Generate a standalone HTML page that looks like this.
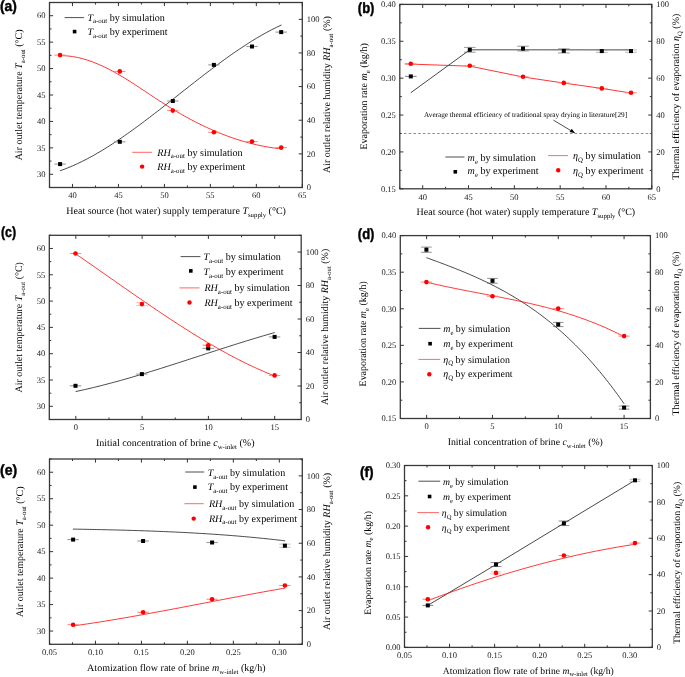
<!DOCTYPE html>
<html><head><meta charset="utf-8"><style>
html,body{margin:0;padding:0;background:#fff;}
svg{display:block;will-change:transform;text-rendering:geometricPrecision;}
</style></head><body>
<svg width="685" height="677" viewBox="0 0 685 677">
<rect width="685" height="677" fill="#fff"/>
<rect x="49.50" y="2.50" width="252.80" height="185.00" fill="none" stroke="#3a3a3a" stroke-width="1.3"/>
<path d="M72.48 187.50v-3.6M72.48 2.50v3.6M118.45 187.50v-3.6M118.45 2.50v3.6M164.41 187.50v-3.6M164.41 2.50v3.6M210.37 187.50v-3.6M210.37 2.50v3.6M256.34 187.50v-3.6M256.34 2.50v3.6M302.30 187.50v-3.6M302.30 2.50v3.6M49.50 187.50v-2.0M49.50 2.50v2.0M95.46 187.50v-2.0M95.46 2.50v2.0M141.43 187.50v-2.0M141.43 2.50v2.0M187.39 187.50v-2.0M187.39 2.50v2.0M233.35 187.50v-2.0M233.35 2.50v2.0M279.32 187.50v-2.0M279.32 2.50v2.0M49.50 174.29h3.6M49.50 147.86h3.6M49.50 121.43h3.6M49.50 95.00h3.6M49.50 68.57h3.6M49.50 42.14h3.6M49.50 15.71h3.6M49.50 187.50h2.0M49.50 161.07h2.0M49.50 134.64h2.0M49.50 108.21h2.0M49.50 81.79h2.0M49.50 55.36h2.0M49.50 28.93h2.0M49.50 2.50h2.0M302.30 187.50h-3.6M302.30 153.86h-3.6M302.30 120.23h-3.6M302.30 86.59h-3.6M302.30 52.95h-3.6M302.30 19.32h-3.6M302.30 170.68h-2.0M302.30 137.05h-2.0M302.30 103.41h-2.0M302.30 69.77h-2.0M302.30 36.14h-2.0M302.30 2.50h-2.0" stroke="#333" stroke-width="1" fill="none"/>
<g font-family="Liberation Serif" font-size="8.5" fill="#1a1a1a"><text x="72.48" y="198.20" text-anchor="middle">40</text><text x="118.45" y="198.20" text-anchor="middle">45</text><text x="164.41" y="198.20" text-anchor="middle">50</text><text x="210.37" y="198.20" text-anchor="middle">55</text><text x="256.34" y="198.20" text-anchor="middle">60</text><text x="302.30" y="198.20" text-anchor="middle">65</text><text x="45.50" y="177.04" text-anchor="end">30</text><text x="45.50" y="150.61" text-anchor="end">35</text><text x="45.50" y="124.18" text-anchor="end">40</text><text x="45.50" y="97.75" text-anchor="end">45</text><text x="45.50" y="71.32" text-anchor="end">50</text><text x="45.50" y="44.89" text-anchor="end">55</text><text x="45.50" y="18.46" text-anchor="end">60</text><text x="306.80" y="190.25">0</text><text x="306.80" y="156.61">20</text><text x="306.80" y="122.98">40</text><text x="306.80" y="89.34">60</text><text x="306.80" y="55.70">80</text><text x="306.80" y="22.07">100</text></g>
<text x="176.15" y="213.90" text-anchor="middle" font-family="Liberation Serif" font-size="10.0" fill="#000"><tspan>Heat source (hot water) supply temperature </tspan><tspan font-style="italic">T</tspan><tspan font-size="6.80" dy="2.80">supply</tspan><tspan dy="-2.80"> (°C)</tspan></text>
<text transform="translate(22.10,94.90) rotate(-90)" text-anchor="middle" font-family="Liberation Serif" font-size="10.03" fill="#000"><tspan>Air outlet temperature </tspan><tspan font-style="italic">T</tspan><tspan font-size="6.82" dy="2.81">a-out</tspan><tspan dy="-2.81"> (°C)</tspan></text>
<text transform="translate(330.10,94.55) rotate(-90)" text-anchor="middle" font-family="Liberation Serif" font-size="10.0" fill="#000"><tspan>Air outlet relative humidity </tspan><tspan font-style="italic">RH</tspan><tspan font-size="6.80" dy="2.80">a-out</tspan><tspan dy="-2.80"> (%)</tspan></text>
<path d="M60.10 170.76 L62.59 169.88 L65.08 168.94 L67.56 167.97 L70.05 166.95 L72.54 165.89 L75.03 164.79 L77.51 163.65 L80.00 162.46 L82.49 161.24 L84.98 159.99 L87.46 158.69 L89.95 157.36 L92.44 156.00 L94.93 154.60 L97.41 153.17 L99.90 151.71 L102.39 150.22 L104.88 148.69 L107.37 147.14 L109.85 145.56 L112.34 143.96 L114.83 142.33 L117.32 140.67 L119.80 138.99 L122.29 137.29 L124.78 135.56 L127.27 133.82 L129.75 132.05 L132.24 130.26 L134.73 128.46 L137.22 126.64 L139.70 124.80 L142.19 122.95 L144.68 121.09 L147.17 119.21 L149.66 117.32 L152.14 115.41 L154.63 113.50 L157.12 111.58 L159.61 109.65 L162.09 107.71 L164.58 105.77 L167.07 103.82 L169.56 101.86 L172.04 99.90 L174.53 97.94 L177.02 95.98 L179.51 94.02 L181.99 92.06 L184.48 90.10 L186.97 88.14 L189.46 86.18 L191.94 84.23 L194.43 82.28 L196.92 80.34 L199.41 78.41 L201.90 76.49 L204.38 74.57 L206.87 72.67 L209.36 70.77 L211.85 68.89 L214.33 67.02 L216.82 65.16 L219.31 63.32 L221.80 61.50 L224.28 59.69 L226.77 57.90 L229.26 56.12 L231.75 54.37 L234.23 52.64 L236.72 50.93 L239.21 49.24 L241.70 47.58 L244.19 45.94 L246.67 44.33 L249.16 42.74 L251.65 41.18 L254.14 39.65 L256.62 38.15 L259.11 36.68 L261.60 35.24 L264.09 33.83 L266.57 32.45 L269.06 31.11 L271.55 29.81 L274.04 28.54 L276.52 27.31 L279.01 26.12 L281.50 24.96" fill="none" stroke="#1a1a1a" stroke-width="0.8" stroke-linejoin="round"/>
<path d="M60.10 55.69 L62.58 55.70 L65.06 55.79 L67.55 55.97 L70.03 56.22 L72.51 56.56 L74.99 56.97 L77.47 57.46 L79.96 58.02 L82.44 58.66 L84.92 59.36 L87.40 60.13 L89.88 60.96 L92.37 61.85 L94.85 62.81 L97.33 63.82 L99.81 64.89 L102.29 66.01 L104.78 67.18 L107.26 68.40 L109.74 69.67 L112.22 70.98 L114.70 72.34 L117.19 73.74 L119.67 75.17 L122.15 76.64 L124.63 78.14 L127.11 79.67 L129.60 81.23 L132.08 82.81 L134.56 84.41 L137.04 86.02 L139.52 87.65 L142.01 89.29 L144.49 90.93 L146.97 92.58 L149.45 94.24 L151.93 95.89 L154.42 97.53 L156.90 99.17 L159.38 100.79 L161.86 102.40 L164.34 103.99 L166.83 105.57 L169.31 107.12 L171.79 108.64 L174.27 110.14 L176.76 111.62 L179.24 113.07 L181.72 114.50 L184.20 115.90 L186.68 117.27 L189.17 118.62 L191.65 119.95 L194.13 121.24 L196.61 122.52 L199.09 123.76 L201.58 124.98 L204.06 126.17 L206.54 127.34 L209.02 128.48 L211.50 129.59 L213.99 130.67 L216.47 131.73 L218.95 132.76 L221.43 133.75 L223.91 134.73 L226.40 135.67 L228.88 136.58 L231.36 137.47 L233.84 138.33 L236.32 139.16 L238.81 139.95 L241.29 140.72 L243.77 141.46 L246.25 142.17 L248.73 142.85 L251.22 143.50 L253.70 144.12 L256.18 144.70 L258.66 145.26 L261.14 145.79 L263.63 146.28 L266.11 146.74 L268.59 147.17 L271.07 147.57 L273.55 147.94 L276.04 148.28 L278.52 148.58 L281.00 148.85" fill="none" stroke="#ff0000" stroke-width="0.8" stroke-linejoin="round"/>
<path d="M54.40 164.10h11.40" stroke="#9a9a9a" stroke-width="1.1" fill="none"/>
<rect x="58.10" y="162.10" width="4.0" height="4.0" fill="#000"/>
<path d="M114.10 141.80h11.40" stroke="#9a9a9a" stroke-width="1.1" fill="none"/>
<rect x="117.80" y="139.80" width="4.0" height="4.0" fill="#000"/>
<path d="M167.10 101.00h11.40" stroke="#9a9a9a" stroke-width="1.1" fill="none"/>
<rect x="170.80" y="99.00" width="4.0" height="4.0" fill="#000"/>
<path d="M208.20 64.90h11.40" stroke="#9a9a9a" stroke-width="1.1" fill="none"/>
<rect x="211.90" y="62.90" width="4.0" height="4.0" fill="#000"/>
<path d="M246.30 46.50h11.40" stroke="#9a9a9a" stroke-width="1.1" fill="none"/>
<rect x="250.00" y="44.50" width="4.0" height="4.0" fill="#000"/>
<path d="M275.50 32.10h11.40" stroke="#9a9a9a" stroke-width="1.1" fill="none"/>
<rect x="279.20" y="30.10" width="4.0" height="4.0" fill="#000"/>
<path d="M54.40 55.10h11.40" stroke="#ff8a8a" stroke-width="1.1" fill="none"/>
<circle cx="60.10" cy="55.10" r="2.3" fill="#f00"/>
<path d="M114.10 71.40h11.40" stroke="#ff8a8a" stroke-width="1.1" fill="none"/>
<circle cx="119.80" cy="71.40" r="2.3" fill="#f00"/>
<path d="M167.10 110.60h11.40" stroke="#ff8a8a" stroke-width="1.1" fill="none"/>
<circle cx="172.80" cy="110.60" r="2.3" fill="#f00"/>
<path d="M208.20 132.30h11.40" stroke="#ff8a8a" stroke-width="1.1" fill="none"/>
<circle cx="213.90" cy="132.30" r="2.3" fill="#f00"/>
<path d="M246.30 141.60h11.40" stroke="#ff8a8a" stroke-width="1.1" fill="none"/>
<circle cx="252.00" cy="141.60" r="2.3" fill="#f00"/>
<path d="M275.50 147.60h11.40" stroke="#ff8a8a" stroke-width="1.1" fill="none"/>
<circle cx="281.20" cy="147.60" r="2.3" fill="#f00"/>
<path d="M64.60 17.60H83.90" stroke="#222" stroke-width="0.8"/>
<text x="87.40" y="20.60" text-anchor="start" font-family="Liberation Serif" font-size="10.1" fill="#000"><tspan font-style="italic">T</tspan><tspan font-size="6.87" dy="2.83">a-out</tspan><tspan dy="-2.83"> by simulation</tspan></text>
<rect x="72.80" y="29.80" width="3.6" height="3.6" fill="#000"/>
<text x="87.40" y="35.10" text-anchor="start" font-family="Liberation Serif" font-size="10.1" fill="#000"><tspan font-style="italic">T</tspan><tspan font-size="6.87" dy="2.83">a-out</tspan><tspan dy="-2.83"> by experiment</tspan></text>
<path d="M132.20 152.30H152.00" stroke="#ff4040" stroke-width="0.8"/>
<text x="157.30" y="155.60" text-anchor="start" font-family="Liberation Serif" font-size="10.1" fill="#000"><tspan font-style="italic">RH</tspan><tspan font-size="6.87" dy="2.83">a-out</tspan><tspan dy="-2.83"> by simulation</tspan></text>
<circle cx="142.10" cy="166.60" r="2.2" fill="#f00"/>
<text x="157.30" y="170.20" text-anchor="start" font-family="Liberation Serif" font-size="10.1" fill="#000"><tspan font-style="italic">RH</tspan><tspan font-size="6.87" dy="2.83">a-out</tspan><tspan dy="-2.83"> by experiment</tspan></text>
<text x="0.00" y="10.50" font-family="Liberation Sans" font-weight="bold" font-size="15" stroke="#000" stroke-width="0.45" textLength="16.9" lengthAdjust="spacingAndGlyphs">(a)</text>
<rect x="399.80" y="4.40" width="252.00" height="184.40" fill="none" stroke="#3a3a3a" stroke-width="1.3"/>
<path d="M422.71 188.80v-3.6M422.71 4.40v3.6M468.53 188.80v-3.6M468.53 4.40v3.6M514.35 188.80v-3.6M514.35 4.40v3.6M560.16 188.80v-3.6M560.16 4.40v3.6M605.98 188.80v-3.6M605.98 4.40v3.6M651.80 188.80v-3.6M651.80 4.40v3.6M399.80 188.80v-2.0M399.80 4.40v2.0M445.62 188.80v-2.0M445.62 4.40v2.0M491.44 188.80v-2.0M491.44 4.40v2.0M537.25 188.80v-2.0M537.25 4.40v2.0M583.07 188.80v-2.0M583.07 4.40v2.0M628.89 188.80v-2.0M628.89 4.40v2.0M399.80 188.80h3.6M399.80 151.92h3.6M399.80 115.04h3.6M399.80 78.16h3.6M399.80 41.28h3.6M399.80 4.40h3.6M399.80 170.36h2.0M399.80 133.48h2.0M399.80 96.60h2.0M399.80 59.72h2.0M399.80 22.84h2.0M651.80 188.80h-3.6M651.80 151.92h-3.6M651.80 115.04h-3.6M651.80 78.16h-3.6M651.80 41.28h-3.6M651.80 4.40h-3.6M651.80 170.36h-2.0M651.80 133.48h-2.0M651.80 96.60h-2.0M651.80 59.72h-2.0M651.80 22.84h-2.0" stroke="#333" stroke-width="1" fill="none"/>
<g font-family="Liberation Serif" font-size="8.5" fill="#1a1a1a"><text x="422.71" y="199.50" text-anchor="middle">40</text><text x="468.53" y="199.50" text-anchor="middle">45</text><text x="514.35" y="199.50" text-anchor="middle">50</text><text x="560.16" y="199.50" text-anchor="middle">55</text><text x="605.98" y="199.50" text-anchor="middle">60</text><text x="651.80" y="199.50" text-anchor="middle">65</text><text x="395.80" y="191.55" text-anchor="end">0.15</text><text x="395.80" y="154.67" text-anchor="end">0.20</text><text x="395.80" y="117.79" text-anchor="end">0.25</text><text x="395.80" y="80.91" text-anchor="end">0.30</text><text x="395.80" y="44.03" text-anchor="end">0.35</text><text x="395.80" y="7.15" text-anchor="end">0.40</text><text x="656.30" y="191.55">0</text><text x="656.30" y="154.67">20</text><text x="656.30" y="117.79">40</text><text x="656.30" y="80.91">60</text><text x="656.30" y="44.03">80</text><text x="656.30" y="7.15">100</text></g>
<text x="525.90" y="215.00" text-anchor="middle" font-family="Liberation Serif" font-size="9.96" fill="#000"><tspan>Heat source (hot water) supply temperature </tspan><tspan font-style="italic">T</tspan><tspan font-size="6.77" dy="2.79">supply</tspan><tspan dy="-2.79"> (°C)</tspan></text>
<text transform="translate(367.10,96.35) rotate(-90)" text-anchor="middle" font-family="Liberation Serif" font-size="10.04" fill="#000"><tspan>Evaporation rate </tspan><tspan font-style="italic">m</tspan><tspan font-size="6.83" dy="2.81">e</tspan><tspan dy="-2.81"> (kg/h)</tspan></text>
<text transform="translate(679.20,96.70) rotate(-90)" text-anchor="middle" font-family="Liberation Serif" font-size="9.97" fill="#000"><tspan>Thermal efficiency of evaporation </tspan><tspan font-style="italic">η</tspan><tspan font-size="6.78" dy="2.79">Q</tspan><tspan dy="-2.79"> (%)</tspan></text>
<path d="M403.9 133.48H651.10" stroke="#8080ff" stroke-width="1.1" stroke-dasharray="2.6 2.14"/>
<text x="424.10" y="116.80" text-anchor="start" font-family="Liberation Serif" font-size="7.23" fill="#000"><tspan>Average thermal efficiency of traditional spray drying in literature[29]</tspan></text>
<path d="M553.4 120.1L572.0 131.3" stroke="#000" stroke-width="0.7"/>
<path d="M575.2 133.2L569.6 131.9L571.7 128.7Z" fill="#000"/>
<path d="M410.80 92.70 L469.80 49.80 L631.00 49.90" fill="none" stroke="#1a1a1a" stroke-width="0.8" stroke-linejoin="round"/>
<path d="M404.70 63.90 L470.20 66.20 L523.00 77.00 L563.60 83.00 L601.50 88.40 L630.80 93.00" fill="none" stroke="#ff0000" stroke-width="0.8" stroke-linejoin="round"/>
<path d="M405.00 76.40h11.60" stroke="#8a8a8a" stroke-width="1.1" fill="none"/>
<rect x="408.80" y="74.40" width="4.0" height="4.0" fill="#000"/>
<path d="M464.00 47.40h11.60M464.00 52.20h11.60M469.80 47.40V52.20" stroke="#555" stroke-width="0.6" fill="none"/>
<rect x="467.80" y="47.80" width="4.0" height="4.0" fill="#000"/>
<path d="M517.20 46.25h11.60M517.20 50.95h11.60M523.00 46.25V50.95" stroke="#555" stroke-width="0.6" fill="none"/>
<rect x="521.00" y="46.60" width="4.0" height="4.0" fill="#000"/>
<path d="M558.00 48.85h11.60M558.00 52.95h11.60M563.80 48.85V52.95" stroke="#555" stroke-width="0.6" fill="none"/>
<rect x="561.80" y="48.90" width="4.0" height="4.0" fill="#000"/>
<path d="M596.00 49.85h11.60M596.00 52.35h11.60M601.80 49.85V52.35" stroke="#8a8a8a" stroke-width="0.6" fill="none"/>
<rect x="599.80" y="49.10" width="4.0" height="4.0" fill="#000"/>
<path d="M625.20 49.90h11.60M625.20 52.30h11.60M631.00 49.90V52.30" stroke="#8a8a8a" stroke-width="0.6" fill="none"/>
<rect x="629.00" y="49.10" width="4.0" height="4.0" fill="#000"/>
<path d="M405.10 63.80h11.40" stroke="#ff8a8a" stroke-width="1.1" fill="none"/>
<circle cx="410.80" cy="63.80" r="2.3" fill="#f00"/>
<path d="M464.10 65.70h11.40" stroke="#ff8a8a" stroke-width="1.1" fill="none"/>
<circle cx="469.80" cy="65.70" r="2.3" fill="#f00"/>
<path d="M517.30 76.80h11.40" stroke="#ff8a8a" stroke-width="1.1" fill="none"/>
<circle cx="523.00" cy="76.80" r="2.3" fill="#f00"/>
<path d="M558.10 82.90h11.40" stroke="#ff8a8a" stroke-width="1.1" fill="none"/>
<circle cx="563.80" cy="82.90" r="2.3" fill="#f00"/>
<path d="M596.10 88.40h11.40" stroke="#ff8a8a" stroke-width="1.1" fill="none"/>
<circle cx="601.80" cy="88.40" r="2.3" fill="#f00"/>
<path d="M625.30 92.80h11.40" stroke="#ff8a8a" stroke-width="1.1" fill="none"/>
<circle cx="631.00" cy="92.80" r="2.3" fill="#f00"/>
<path d="M445.40 157.00H464.50" stroke="#222" stroke-width="0.8"/>
<text x="467.60" y="160.80" text-anchor="start" font-family="Liberation Serif" font-size="10.1" fill="#000"><tspan font-style="italic">m</tspan><tspan font-size="6.87" dy="2.83">e</tspan><tspan dy="-2.83"> by simulation</tspan></text>
<rect x="453.50" y="170.00" width="3.6" height="3.6" fill="#000"/>
<text x="467.60" y="174.40" text-anchor="start" font-family="Liberation Serif" font-size="10.1" fill="#000"><tspan font-style="italic">m</tspan><tspan font-size="6.87" dy="2.83">e</tspan><tspan dy="-2.83"> by experiment</tspan></text>
<path d="M548.20 155.60H568.00" stroke="#ff4040" stroke-width="0.8"/>
<text x="573.10" y="159.10" text-anchor="start" font-family="Liberation Serif" font-size="10.1" fill="#000"><tspan font-style="italic">η</tspan><tspan font-size="6.87" dy="2.83">Q</tspan><tspan dy="-2.83"> by simulation</tspan></text>
<circle cx="558.20" cy="170.20" r="2.2" fill="#f00"/>
<text x="573.10" y="173.90" text-anchor="start" font-family="Liberation Serif" font-size="10.1" fill="#000"><tspan font-style="italic">η</tspan><tspan font-size="6.87" dy="2.83">Q</tspan><tspan dy="-2.83"> by experiment</tspan></text>
<text x="357.80" y="13.10" font-family="Liberation Sans" font-weight="bold" font-size="15" stroke="#000" stroke-width="0.45" textLength="16.6" lengthAdjust="spacingAndGlyphs">(b)</text>
<rect x="49.30" y="235.30" width="251.90" height="184.20" fill="none" stroke="#3a3a3a" stroke-width="1.3"/>
<path d="M75.82 419.50v-3.6M75.82 235.30v3.6M142.11 419.50v-3.6M142.11 235.30v3.6M208.39 419.50v-3.6M208.39 235.30v3.6M274.68 419.50v-3.6M274.68 235.30v3.6M108.96 419.50v-2.0M108.96 235.30v2.0M175.25 419.50v-2.0M175.25 235.30v2.0M241.54 419.50v-2.0M241.54 235.30v2.0M49.30 406.34h3.6M49.30 380.03h3.6M49.30 353.71h3.6M49.30 327.40h3.6M49.30 301.09h3.6M49.30 274.77h3.6M49.30 248.46h3.6M49.30 419.50h2.0M49.30 393.19h2.0M49.30 366.87h2.0M49.30 340.56h2.0M49.30 314.24h2.0M49.30 287.93h2.0M49.30 261.61h2.0M49.30 235.30h2.0M301.20 419.50h-3.6M301.20 386.01h-3.6M301.20 352.52h-3.6M301.20 319.03h-3.6M301.20 285.54h-3.6M301.20 252.05h-3.6M301.20 402.75h-2.0M301.20 369.26h-2.0M301.20 335.77h-2.0M301.20 302.28h-2.0M301.20 268.79h-2.0M301.20 235.30h-2.0" stroke="#333" stroke-width="1" fill="none"/>
<g font-family="Liberation Serif" font-size="8.5" fill="#1a1a1a"><text x="75.82" y="430.20" text-anchor="middle">0</text><text x="142.11" y="430.20" text-anchor="middle">5</text><text x="208.39" y="430.20" text-anchor="middle">10</text><text x="274.68" y="430.20" text-anchor="middle">15</text><text x="45.30" y="409.09" text-anchor="end">30</text><text x="45.30" y="382.78" text-anchor="end">35</text><text x="45.30" y="356.46" text-anchor="end">40</text><text x="45.30" y="330.15" text-anchor="end">45</text><text x="45.30" y="303.84" text-anchor="end">50</text><text x="45.30" y="277.52" text-anchor="end">55</text><text x="45.30" y="251.21" text-anchor="end">60</text><text x="305.70" y="422.25">0</text><text x="305.70" y="388.76">20</text><text x="305.70" y="355.27">40</text><text x="305.70" y="321.78">60</text><text x="305.70" y="288.29">80</text><text x="305.70" y="254.80">100</text></g>
<text x="175.20" y="445.70" text-anchor="middle" font-family="Liberation Serif" font-size="10.02" fill="#000"><tspan>Initial concentration of brine </tspan><tspan font-style="italic">c</tspan><tspan font-size="6.81" dy="2.81">w-inlet</tspan><tspan dy="-2.81"> (%)</tspan></text>
<text transform="translate(22.00,327.25) rotate(-90)" text-anchor="middle" font-family="Liberation Serif" font-size="9.98" fill="#000"><tspan>Air outlet temperature </tspan><tspan font-style="italic">T</tspan><tspan font-size="6.79" dy="2.79">a-out</tspan><tspan dy="-2.79"> (°C)</tspan></text>
<text transform="translate(328.30,326.90) rotate(-90)" text-anchor="middle" font-family="Liberation Serif" font-size="9.96" fill="#000"><tspan>Air outlet relative humidity </tspan><tspan font-style="italic">RH</tspan><tspan font-size="6.77" dy="2.79">a-out</tspan><tspan dy="-2.79"> (%)</tspan></text>
<path d="M75.60 391.57 L77.84 391.10 L80.07 390.61 L82.31 390.12 L84.54 389.62 L86.78 389.10 L89.02 388.58 L91.25 388.06 L93.49 387.52 L95.72 386.97 L97.96 386.42 L100.20 385.86 L102.43 385.29 L104.67 384.72 L106.90 384.14 L109.14 383.55 L111.38 382.95 L113.61 382.35 L115.85 381.74 L118.08 381.13 L120.32 380.51 L122.56 379.88 L124.79 379.25 L127.03 378.61 L129.26 377.96 L131.50 377.32 L133.73 376.66 L135.97 376.00 L138.21 375.34 L140.44 374.67 L142.68 374.00 L144.91 373.32 L147.15 372.64 L149.39 371.95 L151.62 371.27 L153.86 370.57 L156.09 369.88 L158.33 369.18 L160.57 368.48 L162.80 367.77 L165.04 367.06 L167.27 366.35 L169.51 365.64 L171.75 364.93 L173.98 364.21 L176.22 363.49 L178.45 362.77 L180.69 362.05 L182.93 361.33 L185.16 360.60 L187.40 359.88 L189.63 359.15 L191.87 358.42 L194.11 357.70 L196.34 356.97 L198.58 356.24 L200.81 355.51 L203.05 354.78 L205.29 354.06 L207.52 353.33 L209.76 352.60 L211.99 351.88 L214.23 351.15 L216.47 350.43 L218.70 349.71 L220.94 348.99 L223.17 348.27 L225.41 347.55 L227.64 346.83 L229.88 346.12 L232.12 345.41 L234.35 344.70 L236.59 344.00 L238.82 343.30 L241.06 342.60 L243.30 341.90 L245.53 341.21 L247.77 340.52 L250.00 339.83 L252.24 339.15 L254.48 338.47 L256.71 337.80 L258.95 337.13 L261.18 336.47 L263.42 335.81 L265.66 335.15 L267.89 334.50 L270.13 333.86 L272.36 333.22 L274.60 332.59" fill="none" stroke="#1a1a1a" stroke-width="0.8" stroke-linejoin="round"/>
<path d="M75.30 253.63 L77.54 255.17 L79.78 256.71 L82.02 258.26 L84.26 259.81 L86.50 261.37 L88.74 262.92 L90.98 264.48 L93.21 266.04 L95.45 267.60 L97.69 269.17 L99.93 270.73 L102.17 272.30 L104.41 273.87 L106.65 275.43 L108.89 277.00 L111.13 278.57 L113.37 280.13 L115.61 281.70 L117.85 283.27 L120.09 284.83 L122.33 286.39 L124.57 287.96 L126.80 289.52 L129.04 291.07 L131.28 292.63 L133.52 294.18 L135.76 295.73 L138.00 297.28 L140.24 298.83 L142.48 300.37 L144.72 301.90 L146.96 303.44 L149.20 304.97 L151.44 306.49 L153.68 308.01 L155.92 309.52 L158.16 311.03 L160.39 312.54 L162.63 314.03 L164.87 315.52 L167.11 317.01 L169.35 318.49 L171.59 319.96 L173.83 321.43 L176.07 322.88 L178.31 324.33 L180.55 325.77 L182.79 327.21 L185.03 328.63 L187.27 330.05 L189.51 331.46 L191.74 332.86 L193.98 334.25 L196.22 335.63 L198.46 337.00 L200.70 338.36 L202.94 339.71 L205.18 341.05 L207.42 342.38 L209.66 343.70 L211.90 345.00 L214.14 346.30 L216.38 347.58 L218.62 348.85 L220.86 350.11 L223.10 351.36 L225.33 352.59 L227.57 353.81 L229.81 355.02 L232.05 356.21 L234.29 357.39 L236.53 358.56 L238.77 359.71 L241.01 360.84 L243.25 361.96 L245.49 363.07 L247.73 364.16 L249.97 365.24 L252.21 366.30 L254.45 367.34 L256.69 368.37 L258.92 369.38 L261.16 370.37 L263.40 371.35 L265.64 372.31 L267.88 373.25 L270.12 374.17 L272.36 375.08 L274.60 375.96" fill="none" stroke="#ff0000" stroke-width="0.8" stroke-linejoin="round"/>
<path d="M69.80 385.80h11.40" stroke="#9a9a9a" stroke-width="1.1" fill="none"/>
<rect x="73.50" y="383.80" width="4.0" height="4.0" fill="#000"/>
<path d="M136.20 374.10h11.40" stroke="#9a9a9a" stroke-width="1.1" fill="none"/>
<rect x="139.90" y="372.10" width="4.0" height="4.0" fill="#000"/>
<path d="M202.50 348.40h11.40" stroke="#9a9a9a" stroke-width="1.1" fill="none"/>
<rect x="206.20" y="346.40" width="4.0" height="4.0" fill="#000"/>
<path d="M268.90 336.90h11.40" stroke="#9a9a9a" stroke-width="1.1" fill="none"/>
<rect x="272.60" y="334.90" width="4.0" height="4.0" fill="#000"/>
<path d="M69.80 253.50h11.40" stroke="#ff8a8a" stroke-width="1.1" fill="none"/>
<circle cx="75.50" cy="253.50" r="2.3" fill="#f00"/>
<path d="M136.20 302.60h11.40M136.20 305.60h11.40M141.90 302.60V305.60" stroke="#ff8a8a" stroke-width="0.6" fill="none"/>
<circle cx="141.90" cy="304.10" r="2.3" fill="#f00"/>
<path d="M202.50 345.20h11.40" stroke="#ff8a8a" stroke-width="1.1" fill="none"/>
<circle cx="208.20" cy="345.20" r="2.3" fill="#f00"/>
<path d="M268.90 375.40h11.40" stroke="#ff8a8a" stroke-width="1.1" fill="none"/>
<circle cx="274.60" cy="375.40" r="2.3" fill="#f00"/>
<path d="M180.60 256.60H200.40" stroke="#222" stroke-width="0.8"/>
<text x="203.40" y="259.90" text-anchor="start" font-family="Liberation Serif" font-size="10.1" fill="#000"><tspan font-style="italic">T</tspan><tspan font-size="6.87" dy="2.83">a-out</tspan><tspan dy="-2.83"> by simulation</tspan></text>
<rect x="189.00" y="269.10" width="3.6" height="3.6" fill="#000"/>
<text x="203.40" y="274.80" text-anchor="start" font-family="Liberation Serif" font-size="10.1" fill="#000"><tspan font-style="italic">T</tspan><tspan font-size="6.87" dy="2.83">a-out</tspan><tspan dy="-2.83"> by experiment</tspan></text>
<path d="M179.40 287.90H199.50" stroke="#ff4040" stroke-width="0.8"/>
<text x="204.40" y="291.40" text-anchor="start" font-family="Liberation Serif" font-size="10.1" fill="#000"><tspan font-style="italic">RH</tspan><tspan font-size="6.87" dy="2.83">a-out</tspan><tspan dy="-2.83"> by simulation</tspan></text>
<circle cx="189.50" cy="302.50" r="2.2" fill="#f00"/>
<text x="204.40" y="306.30" text-anchor="start" font-family="Liberation Serif" font-size="10.1" fill="#000"><tspan font-style="italic">RH</tspan><tspan font-size="6.87" dy="2.83">a-out</tspan><tspan dy="-2.83"> by experiment</tspan></text>
<text x="0.90" y="237.20" font-family="Liberation Sans" font-weight="bold" font-size="15" stroke="#000" stroke-width="0.45" textLength="15.2" lengthAdjust="spacingAndGlyphs">(c)</text>
<rect x="400.30" y="235.60" width="250.10" height="182.90" fill="none" stroke="#3a3a3a" stroke-width="1.3"/>
<path d="M426.63 418.50v-3.6M426.63 235.60v3.6M492.44 418.50v-3.6M492.44 235.60v3.6M558.26 418.50v-3.6M558.26 235.60v3.6M624.07 418.50v-3.6M624.07 235.60v3.6M459.53 418.50v-2.0M459.53 235.60v2.0M525.35 418.50v-2.0M525.35 235.60v2.0M591.17 418.50v-2.0M591.17 235.60v2.0M400.30 418.50h3.6M400.30 381.92h3.6M400.30 345.34h3.6M400.30 308.76h3.6M400.30 272.18h3.6M400.30 235.60h3.6M400.30 400.21h2.0M400.30 363.63h2.0M400.30 327.05h2.0M400.30 290.47h2.0M400.30 253.89h2.0M650.40 418.50h-3.6M650.40 381.92h-3.6M650.40 345.34h-3.6M650.40 308.76h-3.6M650.40 272.18h-3.6M650.40 235.60h-3.6M650.40 400.21h-2.0M650.40 363.63h-2.0M650.40 327.05h-2.0M650.40 290.47h-2.0M650.40 253.89h-2.0" stroke="#333" stroke-width="1" fill="none"/>
<g font-family="Liberation Serif" font-size="8.5" fill="#1a1a1a"><text x="426.63" y="429.20" text-anchor="middle">0</text><text x="492.44" y="429.20" text-anchor="middle">5</text><text x="558.26" y="429.20" text-anchor="middle">10</text><text x="624.07" y="429.20" text-anchor="middle">15</text><text x="396.30" y="421.25" text-anchor="end">0.15</text><text x="396.30" y="384.67" text-anchor="end">0.20</text><text x="396.30" y="348.09" text-anchor="end">0.25</text><text x="396.30" y="311.51" text-anchor="end">0.30</text><text x="396.30" y="274.93" text-anchor="end">0.35</text><text x="396.30" y="238.35" text-anchor="end">0.40</text><text x="654.90" y="421.25">0</text><text x="654.90" y="384.67">20</text><text x="654.90" y="348.09">40</text><text x="654.90" y="311.51">60</text><text x="654.90" y="274.93">80</text><text x="654.90" y="238.35">100</text></g>
<text x="525.25" y="444.80" text-anchor="middle" font-family="Liberation Serif" font-size="9.8" fill="#000"><tspan>Initial concentration of brine </tspan><tspan font-style="italic">c</tspan><tspan font-size="6.66" dy="2.74">w-inlet</tspan><tspan dy="-2.74"> (%)</tspan></text>
<text transform="translate(366.00,333.85) rotate(-90)" text-anchor="middle" font-family="Liberation Serif" font-size="9.925" fill="#000"><tspan>Evaporation rate </tspan><tspan font-style="italic">m</tspan><tspan font-size="6.75" dy="2.78">e</tspan><tspan dy="-2.78"> (kg/h)</tspan></text>
<text transform="translate(678.90,333.50) rotate(-90)" text-anchor="middle" font-family="Liberation Serif" font-size="9.85" fill="#000"><tspan>Thermal efficiency of evaporation </tspan><tspan font-style="italic">η</tspan><tspan font-size="6.70" dy="2.76">Q</tspan><tspan dy="-2.76"> (%)</tspan></text>
<path d="M426.40 257.65 L428.62 258.45 L430.84 259.26 L433.06 260.07 L435.29 260.88 L437.51 261.70 L439.73 262.53 L441.95 263.36 L444.17 264.19 L446.39 265.04 L448.61 265.89 L450.83 266.75 L453.06 267.62 L455.28 268.50 L457.50 269.38 L459.72 270.28 L461.94 271.19 L464.16 272.11 L466.38 273.05 L468.61 273.99 L470.83 274.95 L473.05 275.92 L475.27 276.91 L477.49 277.91 L479.71 278.92 L481.93 279.96 L484.16 281.00 L486.38 282.07 L488.60 283.15 L490.82 284.25 L493.04 285.37 L495.26 286.51 L497.48 287.67 L499.70 288.84 L501.93 290.04 L504.15 291.26 L506.37 292.50 L508.59 293.77 L510.81 295.05 L513.03 296.36 L515.25 297.70 L517.48 299.06 L519.70 300.44 L521.92 301.85 L524.14 303.29 L526.36 304.75 L528.58 306.24 L530.80 307.75 L533.02 309.30 L535.25 310.87 L537.47 312.48 L539.69 314.11 L541.91 315.78 L544.13 317.47 L546.35 319.20 L548.57 320.96 L550.80 322.75 L553.02 324.57 L555.24 326.43 L557.46 328.33 L559.68 330.25 L561.90 332.22 L564.12 334.22 L566.34 336.25 L568.57 338.33 L570.79 340.44 L573.01 342.59 L575.23 344.77 L577.45 347.00 L579.67 349.27 L581.89 351.57 L584.12 353.92 L586.34 356.31 L588.56 358.74 L590.78 361.21 L593.00 363.73 L595.22 366.29 L597.44 368.89 L599.67 371.54 L601.89 374.24 L604.11 376.97 L606.33 379.76 L608.55 382.59 L610.77 385.47 L612.99 388.40 L615.21 391.38 L617.44 394.40 L619.66 397.48 L621.88 400.60 L624.10 403.78" fill="none" stroke="#1a1a1a" stroke-width="0.8" stroke-linejoin="round"/>
<path d="M426.40 282.16 L428.62 282.69 L430.84 283.21 L433.06 283.72 L435.29 284.23 L437.51 284.72 L439.73 285.21 L441.95 285.70 L444.17 286.18 L446.39 286.65 L448.61 287.11 L450.83 287.58 L453.06 288.03 L455.28 288.48 L457.50 288.93 L459.72 289.37 L461.94 289.81 L464.16 290.25 L466.38 290.69 L468.61 291.12 L470.83 291.55 L473.05 291.98 L475.27 292.40 L477.49 292.83 L479.71 293.25 L481.93 293.68 L484.16 294.10 L486.38 294.53 L488.60 294.95 L490.82 295.38 L493.04 295.81 L495.26 296.24 L497.48 296.67 L499.70 297.11 L501.93 297.55 L504.15 297.99 L506.37 298.44 L508.59 298.89 L510.81 299.34 L513.03 299.80 L515.25 300.26 L517.48 300.73 L519.70 301.21 L521.92 301.69 L524.14 302.18 L526.36 302.67 L528.58 303.17 L530.80 303.68 L533.02 304.20 L535.25 304.73 L537.47 305.26 L539.69 305.80 L541.91 306.36 L544.13 306.92 L546.35 307.49 L548.57 308.08 L550.80 308.67 L553.02 309.28 L555.24 309.89 L557.46 310.52 L559.68 311.16 L561.90 311.81 L564.12 312.48 L566.34 313.16 L568.57 313.85 L570.79 314.56 L573.01 315.28 L575.23 316.02 L577.45 316.77 L579.67 317.54 L581.89 318.32 L584.12 319.12 L586.34 319.94 L588.56 320.77 L590.78 321.62 L593.00 322.49 L595.22 323.37 L597.44 324.28 L599.67 325.20 L601.89 326.14 L604.11 327.10 L606.33 328.08 L608.55 329.08 L610.77 330.10 L612.99 331.14 L615.21 332.21 L617.44 333.29 L619.66 334.40 L621.88 335.53 L624.10 336.68" fill="none" stroke="#ff0000" stroke-width="0.8" stroke-linejoin="round"/>
<path d="M421.10 247.10h10.60M421.10 252.30h10.60M426.40 247.10V252.30" stroke="#444" stroke-width="0.6" fill="none"/>
<rect x="424.40" y="247.70" width="4.0" height="4.0" fill="#000"/>
<path d="M487.20 278.40h10.60M487.20 283.20h10.60M492.50 278.40V283.20" stroke="#444" stroke-width="0.6" fill="none"/>
<rect x="490.50" y="278.80" width="4.0" height="4.0" fill="#000"/>
<path d="M552.90 322.40h10.60M552.90 326.60h10.60M558.20 322.40V326.60" stroke="#444" stroke-width="0.6" fill="none"/>
<rect x="556.20" y="322.50" width="4.0" height="4.0" fill="#000"/>
<path d="M618.80 406.05h10.60M618.80 409.15h10.60M624.10 406.05V409.15" stroke="#444" stroke-width="0.6" fill="none"/>
<rect x="622.10" y="405.60" width="4.0" height="4.0" fill="#000"/>
<path d="M420.70 282.10h11.40" stroke="#ff8a8a" stroke-width="1.1" fill="none"/>
<circle cx="426.40" cy="282.10" r="2.3" fill="#f00"/>
<path d="M486.80 296.20h11.40" stroke="#ff8a8a" stroke-width="1.1" fill="none"/>
<circle cx="492.50" cy="296.20" r="2.3" fill="#f00"/>
<path d="M552.50 308.60h11.40" stroke="#ff8a8a" stroke-width="1.1" fill="none"/>
<circle cx="558.20" cy="308.60" r="2.3" fill="#f00"/>
<path d="M618.40 336.10h11.40" stroke="#ff8a8a" stroke-width="1.1" fill="none"/>
<circle cx="624.10" cy="336.10" r="2.3" fill="#f00"/>
<path d="M418.80 328.40H440.50" stroke="#222" stroke-width="0.8"/>
<text x="443.20" y="332.10" text-anchor="start" font-family="Liberation Serif" font-size="9.948" fill="#000"><tspan font-style="italic">m</tspan><tspan font-size="6.76" dy="2.79">e</tspan><tspan dy="-2.79"> by simulation</tspan></text>
<rect x="428.30" y="341.90" width="3.6" height="3.6" fill="#000"/>
<text x="443.20" y="347.40" text-anchor="start" font-family="Liberation Serif" font-size="9.948" fill="#000"><tspan font-style="italic">m</tspan><tspan font-size="6.76" dy="2.79">e</tspan><tspan dy="-2.79"> by experiment</tspan></text>
<path d="M418.40 359.40H440.20" stroke="#ff4040" stroke-width="0.8"/>
<text x="443.20" y="362.60" text-anchor="start" font-family="Liberation Serif" font-size="9.948" fill="#000"><tspan font-style="italic">η</tspan><tspan font-size="6.76" dy="2.79">Q</tspan><tspan dy="-2.79"> by simulation</tspan></text>
<circle cx="429.30" cy="374.20" r="2.2" fill="#f00"/>
<text x="443.20" y="377.40" text-anchor="start" font-family="Liberation Serif" font-size="9.948" fill="#000"><tspan font-style="italic">η</tspan><tspan font-size="6.76" dy="2.79">Q</tspan><tspan dy="-2.79"> by experiment</tspan></text>
<text x="357.80" y="239.30" font-family="Liberation Sans" font-weight="bold" font-size="15" stroke="#000" stroke-width="0.45" textLength="16.6" lengthAdjust="spacingAndGlyphs">(d)</text>
<rect x="49.50" y="459.00" width="252.80" height="185.30" fill="none" stroke="#3a3a3a" stroke-width="1.3"/>
<path d="M49.50 644.30v-3.6M49.50 459.00v3.6M95.46 644.30v-3.6M95.46 459.00v3.6M141.43 644.30v-3.6M141.43 459.00v3.6M187.39 644.30v-3.6M187.39 459.00v3.6M233.35 644.30v-3.6M233.35 459.00v3.6M279.32 644.30v-3.6M279.32 459.00v3.6M72.48 644.30v-2.0M72.48 459.00v2.0M118.45 644.30v-2.0M118.45 459.00v2.0M164.41 644.30v-2.0M164.41 459.00v2.0M210.37 644.30v-2.0M210.37 459.00v2.0M256.34 644.30v-2.0M256.34 459.00v2.0M302.30 644.30v-2.0M302.30 459.00v2.0M49.50 631.06h3.6M49.50 604.59h3.6M49.50 578.12h3.6M49.50 551.65h3.6M49.50 525.18h3.6M49.50 498.71h3.6M49.50 472.24h3.6M49.50 644.30h2.0M49.50 617.83h2.0M49.50 591.36h2.0M49.50 564.89h2.0M49.50 538.41h2.0M49.50 511.94h2.0M49.50 485.47h2.0M49.50 459.00h2.0M302.30 644.30h-3.6M302.30 610.61h-3.6M302.30 576.92h-3.6M302.30 543.23h-3.6M302.30 509.54h-3.6M302.30 475.85h-3.6M302.30 627.45h-2.0M302.30 593.76h-2.0M302.30 560.07h-2.0M302.30 526.38h-2.0M302.30 492.69h-2.0M302.30 459.00h-2.0" stroke="#333" stroke-width="1" fill="none"/>
<g font-family="Liberation Serif" font-size="8.5" fill="#1a1a1a"><text x="49.50" y="655.00" text-anchor="middle">0.05</text><text x="95.46" y="655.00" text-anchor="middle">0.10</text><text x="141.43" y="655.00" text-anchor="middle">0.15</text><text x="187.39" y="655.00" text-anchor="middle">0.20</text><text x="233.35" y="655.00" text-anchor="middle">0.25</text><text x="279.32" y="655.00" text-anchor="middle">0.30</text><text x="45.50" y="633.81" text-anchor="end">30</text><text x="45.50" y="607.34" text-anchor="end">35</text><text x="45.50" y="580.87" text-anchor="end">40</text><text x="45.50" y="554.40" text-anchor="end">45</text><text x="45.50" y="527.93" text-anchor="end">50</text><text x="45.50" y="501.46" text-anchor="end">55</text><text x="45.50" y="474.99" text-anchor="end">60</text><text x="306.80" y="647.05">0</text><text x="306.80" y="613.36">20</text><text x="306.80" y="579.67">40</text><text x="306.80" y="545.98">60</text><text x="306.80" y="512.29">80</text><text x="306.80" y="478.60">100</text></g>
<text x="176.30" y="671.00" text-anchor="middle" font-family="Liberation Serif" font-size="10.02" fill="#000"><tspan>Atomization flow rate of brine </tspan><tspan font-style="italic">m</tspan><tspan font-size="6.81" dy="2.81">w-inlet</tspan><tspan dy="-2.81"> (kg/h)</tspan></text>
<text transform="translate(22.80,551.75) rotate(-90)" text-anchor="middle" font-family="Liberation Serif" font-size="10.0" fill="#000"><tspan>Air outlet temperature </tspan><tspan font-style="italic">T</tspan><tspan font-size="6.80" dy="2.80">a-out</tspan><tspan dy="-2.80"> (°C)</tspan></text>
<text transform="translate(329.80,551.45) rotate(-90)" text-anchor="middle" font-family="Liberation Serif" font-size="10.02" fill="#000"><tspan>Air outlet relative humidity </tspan><tspan font-style="italic">RH</tspan><tspan font-size="6.81" dy="2.81">a-out</tspan><tspan dy="-2.81"> (%)</tspan></text>
<path d="M72.90 529.09 L75.28 529.14 L77.67 529.18 L80.05 529.22 L82.44 529.26 L84.82 529.31 L87.21 529.35 L89.59 529.40 L91.97 529.45 L94.36 529.50 L96.74 529.55 L99.13 529.60 L101.51 529.65 L103.90 529.70 L106.28 529.75 L108.66 529.81 L111.05 529.87 L113.43 529.92 L115.82 529.98 L118.20 530.04 L120.59 530.11 L122.97 530.17 L125.35 530.23 L127.74 530.30 L130.12 530.37 L132.51 530.44 L134.89 530.51 L137.28 530.59 L139.66 530.66 L142.04 530.74 L144.43 530.82 L146.81 530.90 L149.20 530.99 L151.58 531.07 L153.97 531.16 L156.35 531.25 L158.73 531.35 L161.12 531.44 L163.50 531.54 L165.89 531.64 L168.27 531.74 L170.66 531.85 L173.04 531.96 L175.42 532.07 L177.81 532.18 L180.19 532.30 L182.58 532.41 L184.96 532.54 L187.34 532.66 L189.73 532.79 L192.11 532.92 L194.50 533.05 L196.88 533.19 L199.27 533.33 L201.65 533.47 L204.03 533.62 L206.42 533.77 L208.80 533.92 L211.19 534.07 L213.57 534.23 L215.96 534.40 L218.34 534.56 L220.72 534.73 L223.11 534.91 L225.49 535.08 L227.88 535.26 L230.26 535.45 L232.65 535.64 L235.03 535.83 L237.41 536.03 L239.80 536.23 L242.18 536.43 L244.57 536.64 L246.95 536.85 L249.34 537.07 L251.72 537.29 L254.10 537.51 L256.49 537.74 L258.87 537.97 L261.26 538.21 L263.64 538.45 L266.03 538.70 L268.41 538.95 L270.79 539.21 L273.18 539.47 L275.56 539.73 L277.95 540.00 L280.33 540.28 L282.72 540.56 L285.10 540.84" fill="none" stroke="#1a1a1a" stroke-width="0.8" stroke-linejoin="round"/>
<path d="M73.40 625.91 L75.78 625.57 L78.16 625.24 L80.53 624.89 L82.91 624.55 L85.29 624.19 L87.67 623.84 L90.04 623.48 L92.42 623.12 L94.80 622.75 L97.18 622.38 L99.55 622.00 L101.93 621.63 L104.31 621.24 L106.69 620.86 L109.06 620.47 L111.44 620.08 L113.82 619.68 L116.20 619.29 L118.57 618.88 L120.95 618.48 L123.33 618.07 L125.71 617.66 L128.08 617.25 L130.46 616.84 L132.84 616.42 L135.22 616.00 L137.59 615.58 L139.97 615.15 L142.35 614.73 L144.73 614.30 L147.10 613.86 L149.48 613.43 L151.86 613.00 L154.24 612.56 L156.61 612.12 L158.99 611.68 L161.37 611.24 L163.75 610.80 L166.12 610.35 L168.50 609.90 L170.88 609.46 L173.26 609.01 L175.63 608.56 L178.01 608.11 L180.39 607.66 L182.77 607.20 L185.14 606.75 L187.52 606.30 L189.90 605.84 L192.28 605.39 L194.65 604.93 L197.03 604.48 L199.41 604.02 L201.79 603.56 L204.16 603.11 L206.54 602.65 L208.92 602.19 L211.30 601.74 L213.67 601.28 L216.05 600.82 L218.43 600.37 L220.81 599.91 L223.18 599.46 L225.56 599.00 L227.94 598.55 L230.32 598.10 L232.69 597.65 L235.07 597.20 L237.45 596.75 L239.83 596.30 L242.20 595.85 L244.58 595.40 L246.96 594.96 L249.34 594.51 L251.71 594.07 L254.09 593.63 L256.47 593.19 L258.85 592.76 L261.22 592.32 L263.60 591.89 L265.98 591.45 L268.36 591.02 L270.73 590.60 L273.11 590.17 L275.49 589.75 L277.87 589.33 L280.24 588.91 L282.62 588.50 L285.00 588.08" fill="none" stroke="#ff0000" stroke-width="0.8" stroke-linejoin="round"/>
<path d="M67.40 539.60h11.40" stroke="#9a9a9a" stroke-width="1.1" fill="none"/>
<rect x="71.10" y="537.60" width="4.0" height="4.0" fill="#000"/>
<path d="M137.40 541.00h11.40" stroke="#9a9a9a" stroke-width="1.1" fill="none"/>
<rect x="141.10" y="539.00" width="4.0" height="4.0" fill="#000"/>
<path d="M206.40 542.50h11.40" stroke="#9a9a9a" stroke-width="1.1" fill="none"/>
<rect x="210.10" y="540.50" width="4.0" height="4.0" fill="#000"/>
<path d="M279.20 544.10h11.40M279.20 547.30h11.40M284.90 544.10V547.30" stroke="#9a9a9a" stroke-width="0.6" fill="none"/>
<rect x="282.90" y="543.70" width="4.0" height="4.0" fill="#000"/>
<path d="M67.40 624.70h11.40" stroke="#ff8a8a" stroke-width="1.1" fill="none"/>
<circle cx="73.10" cy="624.70" r="2.3" fill="#f00"/>
<path d="M137.40 612.30h11.40" stroke="#ff8a8a" stroke-width="1.1" fill="none"/>
<circle cx="143.10" cy="612.30" r="2.3" fill="#f00"/>
<path d="M206.40 599.20h11.40" stroke="#ff8a8a" stroke-width="1.1" fill="none"/>
<circle cx="212.10" cy="599.20" r="2.3" fill="#f00"/>
<path d="M279.20 585.50h11.40" stroke="#ff8a8a" stroke-width="1.1" fill="none"/>
<circle cx="284.90" cy="585.50" r="2.3" fill="#f00"/>
<path d="M185.30 472.00H204.20" stroke="#222" stroke-width="0.8"/>
<text x="207.70" y="475.70" text-anchor="start" font-family="Liberation Serif" font-size="10.1" fill="#000"><tspan font-style="italic">T</tspan><tspan font-size="6.87" dy="2.83">a-out</tspan><tspan dy="-2.83"> by simulation</tspan></text>
<rect x="193.10" y="485.30" width="3.6" height="3.6" fill="#000"/>
<text x="207.70" y="490.40" text-anchor="start" font-family="Liberation Serif" font-size="10.1" fill="#000"><tspan font-style="italic">T</tspan><tspan font-size="6.87" dy="2.83">a-out</tspan><tspan dy="-2.83"> by experiment</tspan></text>
<path d="M184.40 503.70H203.70" stroke="#ff4040" stroke-width="0.8"/>
<text x="208.90" y="507.20" text-anchor="start" font-family="Liberation Serif" font-size="10.1" fill="#000"><tspan font-style="italic">RH</tspan><tspan font-size="6.87" dy="2.83">a-out</tspan><tspan dy="-2.83"> by simulation</tspan></text>
<circle cx="193.70" cy="518.60" r="2.2" fill="#f00"/>
<text x="208.90" y="521.60" text-anchor="start" font-family="Liberation Serif" font-size="10.1" fill="#000"><tspan font-style="italic">RH</tspan><tspan font-size="6.87" dy="2.83">a-out</tspan><tspan dy="-2.83"> by experiment</tspan></text>
<text x="0.00" y="474.70" font-family="Liberation Sans" font-weight="bold" font-size="15" stroke="#000" stroke-width="0.45" textLength="17.2" lengthAdjust="spacingAndGlyphs">(e)</text>
<rect x="404.50" y="465.50" width="247.80" height="181.90" fill="none" stroke="#3a3a3a" stroke-width="1.3"/>
<path d="M404.50 647.40v-3.6M404.50 465.50v3.6M449.55 647.40v-3.6M449.55 465.50v3.6M494.61 647.40v-3.6M494.61 465.50v3.6M539.66 647.40v-3.6M539.66 465.50v3.6M584.72 647.40v-3.6M584.72 465.50v3.6M629.77 647.40v-3.6M629.77 465.50v3.6M427.03 647.40v-2.0M427.03 465.50v2.0M472.08 647.40v-2.0M472.08 465.50v2.0M517.14 647.40v-2.0M517.14 465.50v2.0M562.19 647.40v-2.0M562.19 465.50v2.0M607.25 647.40v-2.0M607.25 465.50v2.0M652.30 647.40v-2.0M652.30 465.50v2.0M404.50 647.40h3.6M404.50 617.08h3.6M404.50 586.77h3.6M404.50 556.45h3.6M404.50 526.13h3.6M404.50 495.82h3.6M404.50 465.50h3.6M404.50 632.24h2.0M404.50 601.92h2.0M404.50 571.61h2.0M404.50 541.29h2.0M404.50 510.98h2.0M404.50 480.66h2.0M652.30 647.40h-3.6M652.30 611.02h-3.6M652.30 574.64h-3.6M652.30 538.26h-3.6M652.30 501.88h-3.6M652.30 465.50h-3.6M652.30 629.21h-2.0M652.30 592.83h-2.0M652.30 556.45h-2.0M652.30 520.07h-2.0M652.30 483.69h-2.0" stroke="#333" stroke-width="1" fill="none"/>
<g font-family="Liberation Serif" font-size="8.5" fill="#1a1a1a"><text x="404.50" y="658.10" text-anchor="middle">0.05</text><text x="449.55" y="658.10" text-anchor="middle">0.10</text><text x="494.61" y="658.10" text-anchor="middle">0.15</text><text x="539.66" y="658.10" text-anchor="middle">0.20</text><text x="584.72" y="658.10" text-anchor="middle">0.25</text><text x="629.77" y="658.10" text-anchor="middle">0.30</text><text x="400.50" y="650.15" text-anchor="end">0.00</text><text x="400.50" y="619.83" text-anchor="end">0.05</text><text x="400.50" y="589.52" text-anchor="end">0.10</text><text x="400.50" y="559.20" text-anchor="end">0.15</text><text x="400.50" y="528.88" text-anchor="end">0.20</text><text x="400.50" y="498.57" text-anchor="end">0.25</text><text x="400.50" y="468.25" text-anchor="end">0.30</text><text x="656.80" y="650.15">0</text><text x="656.80" y="613.77">20</text><text x="656.80" y="577.39">40</text><text x="656.80" y="541.01">60</text><text x="656.80" y="504.63">80</text><text x="656.80" y="468.25">100</text></g>
<text x="528.30" y="673.50" text-anchor="middle" font-family="Liberation Serif" font-size="9.61" fill="#000"><tspan>Atomization flow rate of brine </tspan><tspan font-style="italic">m</tspan><tspan font-size="6.53" dy="2.69">w-inlet</tspan><tspan dy="-2.69"> (kg/h)</tspan></text>
<text transform="translate(370.70,562.95) rotate(-90)" text-anchor="middle" font-family="Liberation Serif" font-size="9.79" fill="#000"><tspan>Evaporation rate </tspan><tspan font-style="italic">m</tspan><tspan font-size="6.66" dy="2.74">e</tspan><tspan dy="-2.74"> (kg/h)</tspan></text>
<text transform="translate(679.80,562.95) rotate(-90)" text-anchor="middle" font-family="Liberation Serif" font-size="9.74" fill="#000"><tspan>Thermal efficiency of evaporation </tspan><tspan font-style="italic">η</tspan><tspan font-size="6.62" dy="2.73">Q</tspan><tspan dy="-2.73"> (%)</tspan></text>
<path d="M427.80 605.40 L496.00 564.50 L563.90 523.30 L635.00 480.30" fill="none" stroke="#1a1a1a" stroke-width="0.8" stroke-linejoin="round"/>
<path d="M427.70 600.74 L430.03 599.85 L432.36 598.97 L434.69 598.09 L437.02 597.22 L439.35 596.35 L441.68 595.49 L444.00 594.63 L446.33 593.78 L448.66 592.93 L450.99 592.09 L453.32 591.26 L455.65 590.43 L457.98 589.60 L460.31 588.78 L462.64 587.97 L464.97 587.16 L467.30 586.36 L469.63 585.56 L471.96 584.77 L474.28 583.98 L476.61 583.20 L478.94 582.43 L481.27 581.66 L483.60 580.89 L485.93 580.14 L488.26 579.38 L490.59 578.64 L492.92 577.90 L495.25 577.16 L497.58 576.43 L499.91 575.71 L502.23 574.99 L504.56 574.28 L506.89 573.57 L509.22 572.87 L511.55 572.17 L513.88 571.48 L516.21 570.80 L518.54 570.12 L520.87 569.45 L523.20 568.79 L525.53 568.13 L527.86 567.48 L530.19 566.83 L532.51 566.19 L534.84 565.55 L537.17 564.92 L539.50 564.30 L541.83 563.68 L544.16 563.07 L546.49 562.47 L548.82 561.87 L551.15 561.28 L553.48 560.69 L555.81 560.11 L558.14 559.54 L560.47 558.97 L562.79 558.41 L565.12 557.86 L567.45 557.31 L569.78 556.77 L572.11 556.23 L574.44 555.70 L576.77 555.18 L579.10 554.66 L581.43 554.15 L583.76 553.65 L586.09 553.15 L588.42 552.66 L590.74 552.18 L593.07 551.70 L595.40 551.23 L597.73 550.77 L600.06 550.31 L602.39 549.86 L604.72 549.42 L607.05 548.98 L609.38 548.55 L611.71 548.13 L614.04 547.71 L616.37 547.30 L618.70 546.90 L621.02 546.50 L623.35 546.11 L625.68 545.73 L628.01 545.36 L630.34 544.99 L632.67 544.62 L635.00 544.27" fill="none" stroke="#ff0000" stroke-width="0.8" stroke-linejoin="round"/>
<path d="M422.40 605.40h10.80" stroke="#8a8a8a" stroke-width="1.1" fill="none"/>
<rect x="425.80" y="603.40" width="4.0" height="4.0" fill="#000"/>
<path d="M490.60 562.50h10.80M490.60 566.50h10.80M496.00 562.50V566.50" stroke="#444" stroke-width="0.6" fill="none"/>
<rect x="494.00" y="562.50" width="4.0" height="4.0" fill="#000"/>
<path d="M558.50 521.00h10.80M558.50 525.60h10.80M563.90 521.00V525.60" stroke="#444" stroke-width="0.6" fill="none"/>
<rect x="561.90" y="521.30" width="4.0" height="4.0" fill="#000"/>
<path d="M629.60 479.30h10.80M629.60 481.30h10.80M635.00 479.30V481.30" stroke="#8a8a8a" stroke-width="0.6" fill="none"/>
<rect x="633.00" y="478.30" width="4.0" height="4.0" fill="#000"/>
<path d="M422.40 599.20h10.80" stroke="#ff8a8a" stroke-width="1.1" fill="none"/>
<circle cx="427.80" cy="599.20" r="2.3" fill="#f00"/>
<path d="M490.60 571.90h10.80M490.60 573.90h10.80M496.00 571.90V573.90" stroke="#ff8a8a" stroke-width="0.6" fill="none"/>
<circle cx="496.00" cy="572.90" r="2.3" fill="#f00"/>
<path d="M558.50 555.50h10.80" stroke="#ff8a8a" stroke-width="1.1" fill="none"/>
<circle cx="563.90" cy="555.50" r="2.3" fill="#f00"/>
<path d="M629.60 543.10h10.80" stroke="#ff8a8a" stroke-width="1.1" fill="none"/>
<circle cx="635.00" cy="543.10" r="2.3" fill="#f00"/>
<path d="M418.40 481.20H440.20" stroke="#222" stroke-width="0.8"/>
<text x="442.90" y="484.90" text-anchor="start" font-family="Liberation Serif" font-size="9.716" fill="#000"><tspan font-style="italic">m</tspan><tspan font-size="6.61" dy="2.72">e</tspan><tspan dy="-2.72"> by simulation</tspan></text>
<rect x="427.80" y="494.70" width="3.6" height="3.6" fill="#000"/>
<text x="442.90" y="500.20" text-anchor="start" font-family="Liberation Serif" font-size="9.716" fill="#000"><tspan font-style="italic">m</tspan><tspan font-size="6.61" dy="2.72">e</tspan><tspan dy="-2.72"> by experiment</tspan></text>
<path d="M417.20 512.60H438.90" stroke="#ff4040" stroke-width="0.8"/>
<text x="441.80" y="515.80" text-anchor="start" font-family="Liberation Serif" font-size="9.716" fill="#000"><tspan font-style="italic">η</tspan><tspan font-size="6.61" dy="2.72">Q</tspan><tspan dy="-2.72"> by simulation</tspan></text>
<circle cx="428.10" cy="527.30" r="2.2" fill="#f00"/>
<text x="441.80" y="530.70" text-anchor="start" font-family="Liberation Serif" font-size="9.716" fill="#000"><tspan font-style="italic">η</tspan><tspan font-size="6.61" dy="2.72">Q</tspan><tspan dy="-2.72"> by experiment</tspan></text>
<text x="359.90" y="477.20" font-family="Liberation Sans" font-weight="bold" font-size="15" stroke="#000" stroke-width="0.45" textLength="13.7" lengthAdjust="spacingAndGlyphs">(f)</text>
</svg>
</body></html>
